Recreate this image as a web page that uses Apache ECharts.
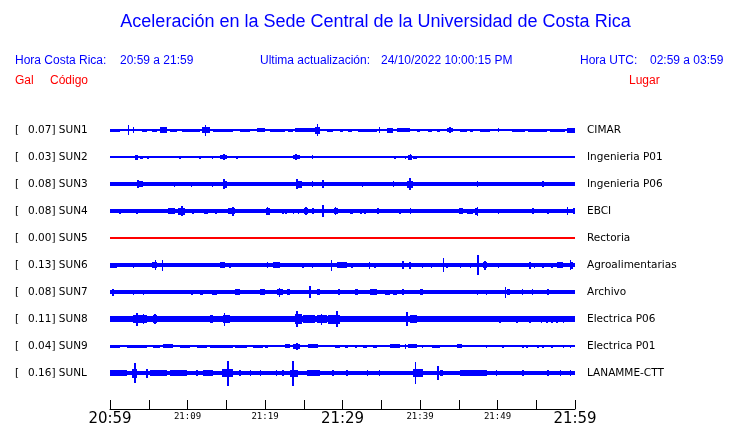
<!DOCTYPE html>
<html><head><meta charset="utf-8">
<script src="https://cdn.jsdelivr.net/npm/echarts@6/dist/echarts.min.js"></script>
<style>html,body{margin:0;padding:0;background:#fff}#c{width:740px;height:423px}</style>
</head><body><div id="c"></div>
<script>
// ---- data (time in minutes after 20:59, amplitude = half trace width) ----
const codes  = ['SUN1','SUN2','SUN3','SUN4','SUN5','SUN6','SUN7','SUN8','SUN9','SUNL'];
const peaks  = ['0.07','0.03','0.08','0.08','0.00','0.13','0.08','0.11','0.04','0.16'];
const places = ['CIMAR','Ingenieria P01','Ingenieria P06','EBCI','Rectoria','Agroalimentarias','Archivo','Electrica P06','Electrica P01','LANAMME-CTT'];
const baseAmp = [0.8, 0.7, 1.8, 1.7, 0.6, 1.8, 1.8, 2.6, 0.8, 2.2];
const timeLabels = ['20:59','21:09','21:19','21:29','21:39','21:49','21:59'];
const labelMinutes = [0,10,20,30,40,50,60];

// bursts: [start, end, halfAmplitude]
const sun1 = [[0,1.3,1.5],[2.4,2.4,5],[3.0,3.0,3],[4.1,4.8,1.5],[5.4,6.1,1.5],[6.5,7.4,3],[7.7,8.6,1.5],[9.3,11.6,1.5],[11.9,12.9,3],[12.3,12.3,5.5],[13.3,15.9,1.5],[16.8,18.1,1.5],[19.0,20.0,2],[20.6,22.6,1.5],[23.0,23.6,1.5],[23.9,26.5,1.8],[26.5,27.1,3.5],[26.8,26.8,6],[28.0,28.8,1.5],[29.7,30.1,1.5],[30.7,31.2,1.5],[32.0,34.5,1.5],[34.8,34.8,3],[35.7,36.5,2.5],[37.0,38.7,1.8],[39.6,40.0,1.5],[41.0,41.5,1.5],[42.2,42.6,1.5],[43.5,44.3,1.8],[43.9,43.9,3],[45.2,46.1,1.5],[46.5,46.8,1.5],[47.7,49.0,1.5],[50.1,50.1,2],[51.9,53.5,1.5],[53.9,56.4,1.5],[56.8,58.7,1.5],[59.0,60,2.5]];
const sun2 = [[3.2,3.6,2.5],[3.9,4.3,1.5],[4.9,4.9,1.5],[6.1,6.1,1],[9.0,9.0,1.5],[11.6,11.6,1.5],[13.2,13.2,1.5],[14.2,15.1,2],[14.7,14.7,3],[16.4,16.4,1.5],[19.2,19.2,1],[23.6,24.5,2],[24.0,24.0,3],[26.1,26.1,2],[27.0,27.0,1],[36.8,36.8,1.5],[38.1,38.1,1.5],[38.5,39.0,2.5],[38.8,38.8,3],[39.1,39.6,1.5],[50.6,50.6,1],[56.4,56.4,1],[59.5,59.5,1]];
const sun3 = [[3.5,4.3,3],[3.6,3.6,4],[8.3,8.3,2.5],[10.5,10.5,2.5],[13.2,13.2,2.5],[14.6,15.1,3.5],[14.7,14.7,5],[24.1,24.8,3.5],[24.1,24.1,5],[26.1,26.1,3],[27.5,27.5,4],[32.6,32.6,2.5],[36.6,36.6,3],[38.3,39.1,3.5],[38.7,38.7,6],[47.4,47.4,3],[55.9,55.9,3]];
const sun4 = [[1.3,1.3,2.5],[1.9,1.9,2],[3.5,3.5,2.5],[6.2,6.2,2],[7.5,8.4,3],[8.8,9.7,3.5],[9.3,9.3,5],[10.7,10.7,2.5],[12.1,12.6,2.5],[13.7,13.7,2.5],[14.2,14.2,2],[15.2,16.1,3],[15.9,15.9,4.5],[16.8,16.8,2],[20.1,20.6,3.5],[20.3,20.3,4],[22.3,22.3,2.5],[22.7,22.7,2.5],[23.7,23.7,2.5],[24.3,24.3,2.5],[25.0,25.5,3],[25.3,25.3,4],[26.2,26.2,3],[27.5,27.5,6],[28.9,29.4,3],[29.1,29.1,4],[31.0,31.4,2.5],[32.4,32.4,2.5],[32.9,32.9,2.5],[34.5,34.7,3],[36.0,36.0,2],[37.4,37.4,2.5],[38.8,38.8,3],[42.2,42.2,2],[45.0,45.5,3],[46.1,46.8,2.5],[47.1,47.5,3.5],[47.4,47.4,4.5],[50.1,50.1,2.5],[51.4,51.4,2],[54.6,54.6,3],[56.5,56.5,2.5],[59.0,59.0,4],[59.9,59.9,3]];
const sun5 = [];
const sun6 = [[0,0.9,2.5],[3.0,3.0,2.5],[5.4,6.1,3],[5.9,5.9,5],[6.8,6.8,5.5],[7.5,9.3,2.3],[14.2,14.8,3],[15.5,15.5,2.5],[16.8,17.7,2.3],[20.3,20.3,3],[21.0,21.9,2.8],[24.9,24.9,2.5],[26.1,26.1,2.5],[26.7,28.1,2.2],[28.6,28.6,5.5],[29.3,30.6,2.6],[31.2,31.2,2.5],[32.0,33.2,2.3],[33.5,33.5,3.5],[34.2,34.2,2.5],[37.8,37.8,4],[38.7,38.7,3.5],[40.3,40.3,2.5],[41.5,41.5,2.5],[43.0,43.0,7],[43.5,43.5,2.5],[45.2,45.2,2.5],[46.5,46.5,2.5],[47.5,47.5,10],[48.1,48.6,3],[48.4,48.4,4.5],[50.1,50.1,2.5],[52.5,53.3,2.3],[54.2,54.2,3.5],[54.8,54.8,2.5],[55.9,55.9,2.5],[57.0,57.0,2.5],[57.7,58.5,2.8],[59.4,59.4,5],[59.6,59.6,3.5]];
const sun7 = [[0.4,0.4,3.5],[3.0,3.0,2.5],[4.3,4.3,2.5],[5.5,6.5,2.3],[7.4,9.0,2.3],[10.6,10.6,2.5],[11.6,12.0,2.5],[13.2,13.8,2.5],[16.1,16.8,2.8],[19.4,20.0,3],[21.5,22.3,3.3],[21.9,21.9,4.5],[22.8,23.2,2.8],[25.8,25.8,6],[26.7,27.1,2.8],[29.4,29.7,3],[31.6,32.0,2.8],[33.5,34.5,2.6],[35.5,36.1,2.5],[36.5,37.0,2.5],[37.8,37.8,3],[40.0,40.4,3.3],[43.9,45.2,2.4],[47.4,47.4,2.5],[48.6,48.6,2.5],[51.0,51.0,5.5],[51.2,51.6,3],[53.2,53.2,3],[54.5,54.5,3],[56.5,56.5,3]];
const sun8 = [[0,3.0,2.9],[3.0,4.8,3.8],[3.5,3.5,6.5],[4.3,4.3,5],[5.5,6.1,4],[5.8,5.8,5],[6.5,12.5,2.9],[12.9,13.3,3.8],[14.6,15.5,4.2],[14.8,14.8,6.5],[15.9,23.2,2.9],[23.9,24.8,4.8],[24.1,24.1,8],[24.9,26.5,3.6],[26.7,28.0,4.2],[27.3,27.3,5.5],[28.1,29.7,4.5],[29.3,29.3,8],[30.1,30.6,3.3],[33.3,33.9,3.3],[38.3,38.3,7],[38.7,39.6,4],[47.4,47.7,3.3],[50.3,50.3,3.5],[52.5,52.5,3.5],[54.2,54.2,3.5],[55.7,55.7,3.5],[56.4,56.4,3.5],[57.0,57.0,3.5],[57.7,57.7,3.5],[58.5,58.5,3.5]];
const sun9 = [[0,1.3,1.5],[2.2,4.8,1.5],[5.5,6.5,1.5],[6.8,8.1,1.8],[9.0,10.3,1.5],[11.2,12.5,1.5],[12.9,15.9,1.5],[16.1,17.7,1.5],[18.5,19.7,1.5],[20.0,20.4,1.5],[22.6,23.2,2],[23.6,24.5,2.5],[24.1,24.1,3.5],[25.5,26.8,2],[29.0,29.7,1.5],[30.3,30.7,1.5],[31.6,31.9,1.5],[32.6,33.2,1.5],[33.9,34.5,1.5],[36.1,37.4,1.8],[38.1,38.1,2.5],[38.5,39.6,2.2],[40.3,40.4,1.5],[41.5,42.6,1.5],[44.8,45.4,1.8],[48.6,48.6,1.5],[50.7,50.7,1.5],[53.3,53.3,1.5],[53.8,53.8,1.5],[55.2,55.2,1.5],[55.9,55.9,1.5],[57.0,57.0,1.5],[58.5,58.5,1.5],[59.4,59.4,1.5]];
const sunl = [[0,2.2,2.8],[2.8,3.5,4.5],[3.2,3.2,10],[4.8,4.8,4.5],[5.2,7.4,2.8],[7.7,9.9,2.8],[11.2,11.2,3],[12.0,13.3,2.8],[14.5,15.9,3.6],[15.2,15.2,12.5],[16.8,16.8,3],[18.1,18.1,3],[19.4,19.4,3],[21.5,21.5,3],[22.3,22.3,3],[23.2,24.3,3.5],[23.6,23.6,12.5],[25.4,27.1,2.8],[28.8,28.8,3],[30.6,30.6,3],[33.2,33.2,3],[34.8,34.8,3],[39.1,40.4,3.6],[39.4,39.4,11],[42.3,42.3,7],[42.6,43.0,3.3],[45.2,48.6,2.8],[49.9,49.9,3],[53.3,53.3,3],[56.5,56.5,3],[58.1,58.1,3],[59.4,59.4,3]];
const traces = [sun1, sun2, sun3, sun4, sun5, sun6, sun7, sun8, sun9, sunl];

// ---- chart ----
const BLUE = '#0000ff', RED = '#ff0000';
const SPACING = 27, FIRST = 30;
const chart = echarts.init(document.getElementById('c'), null, {renderer:'canvas'});

function traceSeries(i) {
  const center = FIRST + SPACING * i;
  const color = codes[i] === 'SUN5' ? RED : BLUE;
  const data = [[0, 60, baseAmp[i]]].concat(traces[i]);
  return {
    type: 'custom', coordinateSystem: 'cartesian2d', silent: true, animation: false,
    data: data, encode: {x: [0, 1], y: 2},
    renderItem: function (params, api) {
      const s = api.value(0), e = api.value(1), h = api.value(2);
      const p1 = api.coord([s, center - h]);
      const p2 = api.coord([e, center + h]);
      let x0 = Math.min(p1[0], p2[0]), x1 = Math.max(p1[0], p2[0]);
      if (x1 - x0 < 1.5) { const m = (x0 + x1) / 2; x0 = m - 0.75; x1 = m + 0.75; }
      let y0 = Math.round(Math.min(p1[1], p2[1]));
      let y1 = Math.round(Math.max(p1[1], p2[1]));
      if (y1 - y0 < 1) y1 = y0 + 1;
      x0 = Math.round(x0); x1 = Math.max(Math.round(x1), x0 + 1);
      return {type: 'rect', shape: {x: x0, y: y0, width: x1 - x0, height: y1 - y0}, style: {fill: color}};
    }
  };
}

const option = {
  backgroundColor: '#fff',
  animation: false,
  grid: {left: 110, right: 165, top: 100, height: 309, containLabel: false, outerBoundsMode: 'none'},
  xAxis: {
    type: 'value', min: 0, max: 60, interval: 5, position: 'bottom',
    axisLine: {show: true, onZero: false, lineStyle: {color: '#000', width: 1}},
    axisTick: {show: true, inside: true, length: 9, lineStyle: {color: '#000', width: 1}},
    splitLine: {show: false},
    axisLabel: {
      margin: 3, showMinLabel: true, showMaxLabel: true,
      formatter: function (v) {
        const k = labelMinutes.indexOf(v);
        if (k < 0) return '';
        return (v % 30 === 0 ? '{b|' : '{s|') + timeLabels[k] + '}';
      },
      rich: {
        b: {fontSize: 15, fontFamily: 'DejaVu Sans', color: '#000'},
        s: {fontSize: 9, fontFamily: 'DejaVu Sans Mono', color: '#000'}
      }
    }
  },
  yAxis: {type: 'value', min: 0, max: 309, inverse: true, show: false},
  series: codes.map((c, i) => traceSeries(i))
};
chart.setOption(option);

const g = [];
function txt(x, y, text, size, color, family, align) {
  g.push({type: 'text', x: x, y: y, silent: true,
    style: {text: text, fill: color, fontSize: size, fontFamily: family, align: align || 'left', verticalAlign: 'middle'}});
}
txt(375.5, 22, 'Aceleración en la Sede Central de la Universidad de Costa Rica', 18, BLUE, 'Liberation Sans', 'center');
txt(15, 61, 'Hora Costa Rica:', 12, BLUE, 'Liberation Sans');
txt(120, 61, '20:59 a 21:59', 12, BLUE, 'Liberation Sans');
txt(260, 61, 'Ultima actualización:', 12, BLUE, 'Liberation Sans');
txt(381, 61, '24/10/2022 10:00:15 PM', 12, BLUE, 'Liberation Sans');
txt(580, 61, 'Hora UTC:', 12, BLUE, 'Liberation Sans');
txt(650, 61, '02:59 a 03:59', 12, BLUE, 'Liberation Sans');
txt(15, 81, 'Gal', 12, RED, 'Liberation Sans');
txt(50, 81, 'Código', 12, RED, 'Liberation Sans');
txt(629, 81, 'Lugar', 12, RED, 'Liberation Sans');
codes.forEach((c, i) => {
  const y = chart.convertToPixel({yAxisIndex: 0}, FIRST + SPACING * i);
  txt(15, y, '[', 10.5, '#000', 'DejaVu Sans');
  txt(28, y, peaks[i] + '] ' + c, 10.5, '#000', 'DejaVu Sans');
  txt(587, y, places[i], 10.5, '#000', 'DejaVu Sans');
});
chart.setOption({graphic: g});
</script>
</body></html>
